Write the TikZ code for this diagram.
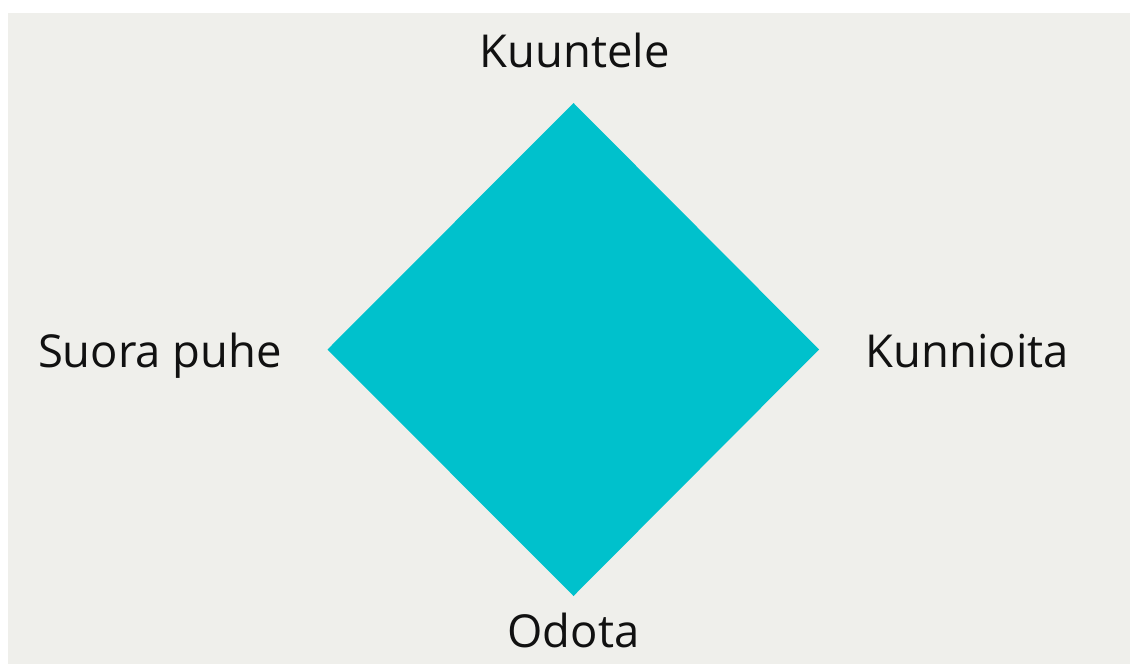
\documentclass[tikz,border=0pt]{standalone}
\usepackage{fontspec}
\setmainfont{Open Sans}
\definecolor{bgc}{HTML}{EFEFEB}
\definecolor{teal}{HTML}{00C1CC}
\definecolor{txt}{HTML}{111111}
\begin{document}
\begin{tikzpicture}[x=1pt,y=-1pt,
  lab/.style={anchor=base,inner sep=0pt,text=txt,font=\fontsize{45.4}{48}\selectfont}]
\useasboundingbox (0,0) rectangle (1130,664);
\fill[white] (0,0) rectangle (1130,664);
\fill[bgc] (8,13) rectangle (1130,664);
\coordinate (T) at (573.5,103);
\coordinate (R) at (819,349.5);
\coordinate (B) at (573.5,596);
\coordinate (L) at (327.5,349.5);
\fill[teal] (T) -- (R) -- (B) -- (L) -- cycle;
\node[lab] (top) at (574.5,67) {Kuuntele};
\node[lab] (bot) at (573.5,647) {Odota};
\node[lab] (left) at (160,367) {Suora puhe};
\node[lab] (right) at (967.5,367) {Kunnioita};
\end{tikzpicture}
\end{document}
